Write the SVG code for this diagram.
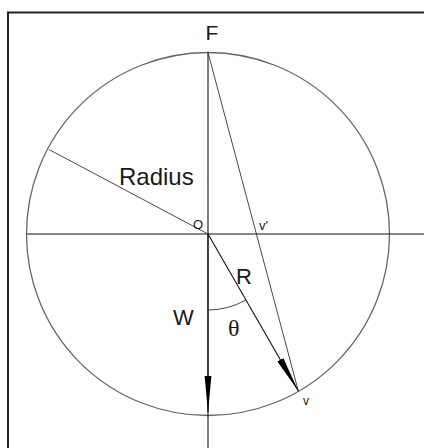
<svg xmlns="http://www.w3.org/2000/svg" width="424" height="448" viewBox="0 0 424 448">
<style>
.frame{stroke:#222;stroke-width:2;fill:none}
.circ{stroke:#666;stroke-width:1.3;fill:none}
.ln{stroke:#111;stroke-width:1.1;fill:none}
.thin{stroke:#333;stroke-width:0.9;fill:none}
.t{font-family:"Liberation Sans",Arial,sans-serif;fill:#1a1a1a}
.s{font-family:"Liberation Serif","Times New Roman",serif;fill:#1a1a1a}
</style>
<defs>
<marker id="arr" markerUnits="userSpaceOnUse" viewBox="0 0 36 8" refX="36" refY="4" markerWidth="36" markerHeight="8" orient="auto">
<path d="M0,0.6 L36,4 L0,7.4 z" fill="#000"/>
</marker>
</defs>
<rect width="424" height="448" fill="#fff"/>
<path class="frame" d="M8,448 V12.5 H424"/>
<g id="circle"><circle class="circ" cx="208" cy="234" r="181.5"/></g>
<g id="connectors">
<line class="ln" x1="27" y1="234" x2="424" y2="234"/>
<line class="ln" x1="208" y1="52.5" x2="208" y2="448"/>
<line class="thin" x1="208" y1="234" x2="49" y2="149.5"/>
<line class="thin" x1="208" y1="52.5" x2="298.3" y2="391"/>
<line class="ln" x1="208" y1="234" x2="208" y2="412" marker-end="url(#arr)"/>
<line class="ln" x1="208" y1="234" x2="298.3" y2="391" marker-end="url(#arr)"/>
<path class="thin" d="M208,310 A76,76 0 0 0 245.8,300"/>
</g>
<g id="labels">
<text class="t" x="212" y="40" font-size="21" text-anchor="middle">F</text>
<text class="t" x="119" y="185" font-size="24">Radius</text>
<text class="t" x="198" y="229.3" font-size="13" text-anchor="middle">O</text>
<text class="t" x="259" y="230" font-size="13">v'</text>
<text class="t" x="236" y="284.3" font-size="22">R</text>
<text class="t" x="173" y="325.3" font-size="22">W</text>
<text class="s" x="228" y="336" font-size="24">θ</text>
<text class="t" x="303" y="405" font-size="12">v</text>
</g>
</svg>
